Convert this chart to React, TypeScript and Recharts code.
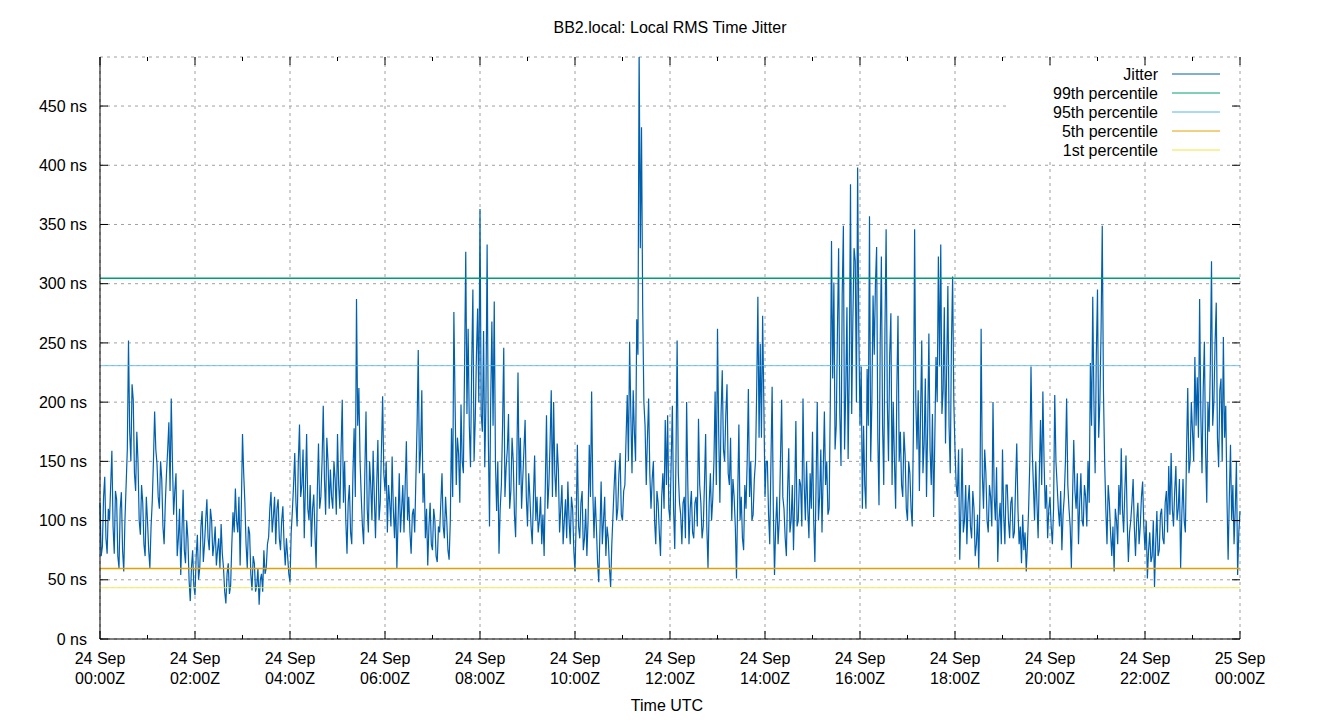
import React from 'react';
import { LineChart, Line, XAxis, YAxis, CartesianGrid, ReferenceLine } from 'recharts';

// samples every 3 minutes from 24 Sep 00:00Z (JITTER_ON) and the values read
// half way between them (JITTER_MID), which give the dense band of the trace
const STEP_MIN = 3;
const JITTER_ON = [
  115, 78, 137, 72, 100, 159, 72, 118, 60, 124,
  57, 130, 252, 150, 202, 125, 150, 88, 115, 70,
  100, 60, 116, 192, 148, 110, 135, 80, 140, 183,
  203, 105, 140, 85, 54, 126, 64, 85, 32, 75,
  37, 88, 60, 108, 80, 118, 75, 100,
  80, 62, 85, 97, 60, 30, 64, 45, 107, 127,
  90, 62, 173, 115, 60, 89, 41, 64, 45, 29,
  55, 75, 60, 86, 124, 103, 80, 118, 75, 112,
  62, 70, 48, 108, 157, 95, 181, 130, 85, 173,
  100, 78, 122, 60, 165, 120, 197, 105,
  150, 143, 110, 135, 173, 110, 202, 150, 72, 130,
  80, 178, 287, 212, 120, 80, 192, 90, 130, 159,
  85, 168, 115, 205, 125, 90, 115, 154, 85, 60,
  140, 110, 90, 167, 120, 72, 110, 135, 244, 160,
  115, 85, 62, 115, 75, 100, 65,
  90, 140, 85, 100, 67, 178, 276, 130, 156, 198,
  140, 327, 262, 145, 295, 185, 279, 363, 175, 145,
  333, 95, 268, 285, 108, 72, 130, 246, 145, 190,
  125, 150, 86, 225, 170, 135, 185, 95, 120, 80,
  155, 120, 100, 80, 70, 189, 130, 210,
  200, 120, 143, 110, 80, 118, 133, 80, 110, 57,
  164, 85, 125, 85, 70, 164, 209, 85, 95, 48,
  133, 100, 70, 85, 44, 105, 151, 110, 157, 100,
  130, 206, 251, 140, 175, 270, 500, 432, 200, 130,
  203, 110, 150, 80, 115, 70, 140,
  185, 189, 100, 197, 76, 252, 115, 80, 120, 200,
  80, 125, 85, 120, 186, 115, 95, 173, 60, 140,
  118, 209, 262, 115, 227, 150, 215, 130, 100, 120,
  51, 181, 120, 75, 110, 211, 150, 105, 150, 289,
  249, 273, 120, 150, 80, 213, 54, 120,
  100, 202, 110, 70, 161, 100, 75, 184, 100, 130,
  203, 100, 110, 140, 175, 65, 200, 120, 90, 192,
  150, 110, 336, 301, 180, 330, 146, 349, 210, 152,
  384, 270, 319, 398, 180, 110, 130, 228, 357, 200,
  240, 331, 113, 323, 130, 346, 150, 275,
  200, 110, 273, 175, 120, 155, 100, 140, 95, 346,
  160, 125, 252, 165, 120, 258, 130, 103, 238, 323,
  333, 210, 165, 298, 140, 306, 160, 120, 67, 161,
  100, 80, 130, 85, 110, 80, 59, 262, 110, 140,
  90, 120, 200, 100, 65, 115, 160, 80,
  130, 85, 120, 90, 165, 80, 64, 75, 57, 110,
  230, 130, 150, 85, 185, 209, 110, 85, 120, 80,
  206, 130, 95, 75, 120, 203, 110, 60, 168, 110,
  80, 140, 95, 120, 150, 233, 289, 140, 295, 200,
  349, 150, 80, 115, 70, 57, 100, 130,
  161, 90, 155, 65, 100, 135, 70, 115, 95, 133,
  75, 51, 90, 70, 44, 108, 75, 110, 80, 125,
  146, 157, 95, 146, 110, 60, 135, 90, 212, 150,
  175, 238, 221, 287, 140, 251, 115, 175, 319, 200,
  284, 145, 220, 255, 197, 67, 164, 130, 110, 54,
  108,
];

const JITTER_MID = [
  70, 120, 85, 110, 130, 95, 125, 70, 110, 75,
  100, 160, 175, 215, 140, 175, 100, 130, 80, 120,
  75, 95, 150, 160, 120, 150, 95, 115, 160, 125,
  150, 125, 70, 110, 90, 75, 100, 50, 60, 45,
  70, 50, 95, 65, 100, 85, 110, 70,
  95, 75, 60, 72, 40, 55, 38, 80, 90, 100,
  120, 110, 140, 80, 95, 55, 70, 40, 60, 50,
  40, 55, 80, 110, 90, 120, 110, 85, 100, 80,
  85, 55, 90, 130, 115, 150, 120, 160, 130, 110,
  130, 110, 90, 125, 110, 150, 135, 170,
  110, 120, 150, 105, 130, 160, 115, 100, 115, 90,
  140, 120, 180, 150, 95, 140, 110, 150, 100, 120,
  130, 100, 160, 140, 150, 130, 95, 110, 120, 100,
  90, 130, 130, 100, 90, 105, 90, 180, 140, 210,
  140, 110, 95, 80, 110, 70, 95,
  115, 95, 120, 75, 100, 120, 200, 170, 115, 150,
  230, 190, 180, 230, 150, 240, 200, 190, 260, 200,
  170, 200, 180, 150, 150, 110, 180, 120, 160, 110,
  170, 105, 150, 130, 110, 160, 120, 140, 95, 120,
  100, 90, 120, 105, 130, 110, 165, 120,
  140, 165, 90, 130, 100, 85, 100, 120, 75, 100,
  95, 115, 75, 110, 100, 120, 125, 120, 65, 90,
  80, 120, 95, 60, 80, 130, 100, 140, 105, 125,
  170, 150, 190, 210, 150, 240, 330, 280, 180, 170,
  140, 135, 100, 125, 90, 120, 110,
  130, 110, 150, 110, 150, 140, 105, 115, 85, 130,
  110, 90, 115, 95, 130, 85, 130, 95, 115, 100,
  150, 130, 175, 190, 160, 190, 140, 170, 135, 95,
  120, 100, 85, 130, 150, 120, 100, 135, 210, 170,
  170, 200, 150, 105, 150, 110, 95, 80,
  150, 120, 85, 125, 90, 130, 120, 95, 135, 95,
  130, 150, 85, 110, 100, 130, 100, 160, 140, 130,
  105, 200, 220, 160, 260, 190, 290, 160, 280, 230,
  190, 330, 200, 260, 230, 180, 110, 180, 150, 290,
  300, 170, 250, 180, 260, 200, 240, 130,
  150, 210, 150, 130, 175, 110, 150, 110, 180, 200,
  210, 190, 140, 220, 180, 160, 190, 170, 200, 230,
  190, 280, 230, 180, 250, 200, 130, 160, 110, 90,
  130, 115, 95, 125, 70, 105, 120, 140, 160, 100,
  130, 95, 120, 145, 100, 80, 105, 130,
  100, 115, 85, 130, 110, 95, 105, 90, 80, 150,
  160, 100, 115, 140, 130, 150, 130, 110, 95, 110,
  150, 110, 125, 105, 150, 130, 95, 120, 125, 140,
  115, 100, 130, 95, 115, 180, 200, 240, 170, 260,
  210, 110, 130, 90, 95, 110, 80, 105,
  110, 125, 100, 90, 115, 95, 100, 80, 120, 95,
  100, 75, 65, 100, 80, 70, 105, 85, 115, 90,
  105, 110, 125, 100, 135, 105, 100, 160, 140, 200,
  150, 180, 170, 190, 210, 160, 200, 230, 180, 250,
  170, 210, 150, 170, 120, 120, 100, 80, 150, 90,
];

const PCT_KEYS = ['p99', 'p95', 'p5', 'p1'];
const PCT_NAMES = ['99th percentile', '95th percentile', '5th percentile', '1st percentile'];
const PCT_VALUES = [304.5, 230.8, 59.5, 43.3];

const X_TICKS = [0, 120, 240, 360, 480, 600, 720, 840, 960, 1080, 1200, 1320, 1440];
const X_MINOR = [60, 180, 300, 420, 540, 660, 780, 900, 1020, 1140, 1260, 1380];
const X_DAY = ['24 Sep', '24 Sep', '24 Sep', '24 Sep', '24 Sep', '24 Sep', '24 Sep', '24 Sep', '24 Sep', '24 Sep', '24 Sep', '24 Sep', '25 Sep'];
const X_TIME = ['00:00Z', '02:00Z', '04:00Z', '06:00Z', '08:00Z', '10:00Z', '12:00Z', '14:00Z', '16:00Z', '18:00Z', '20:00Z', '22:00Z', '00:00Z'];
const Y_TICKS = [0, 50, 100, 150, 200, 250, 300, 350, 400, 450];
const X_MAX = 1440;
const Y_MAX = 491.4;

// tick mark lengths in data units (about 8 px major, 4 px minor)
const TICK_NS = 6.8;
const MINOR_NS = 3.4;
const TICK_MIN = 10.1;

const JITTER_COLOR = '#0060ad';
const PCT_COLORS = ['#009e73', '#56b4e9', '#e69f00', '#f0e442'];
const PCT_WIDTHS = [1.5, 1, 1.5, 1];
const FONT = '"Liberation Sans", Arial, sans-serif';

const rows: Record<string, number>[] = [];
JITTER_ON.forEach((v, i) => {
  rows.push({ t: i * STEP_MIN, jitter: v });
  if (i < JITTER_MID.length) rows.push({ t: i * STEP_MIN + STEP_MIN / 2, jitter: JITTER_MID[i] });
});
rows.forEach((r) => {
  PCT_KEYS.forEach((k, j) => { r[k] = PCT_VALUES[j]; });
});

function TimeTick({ x, y, payload }: { x?: number; y?: number; payload?: { value: number } }) {
  const i = X_TICKS.indexOf(payload ? payload.value : -1);
  if (i < 0) return <g />;
  return (
    <g>
      <text x={x} y={(y || 0) + 25} textAnchor="middle" fontSize={16} fontFamily={FONT} fill="#000">{X_DAY[i]}</text>
      <text x={x} y={(y || 0) + 45} textAnchor="middle" fontSize={16} fontFamily={FONT} fill="#000">{X_TIME[i]}</text>
    </g>
  );
}

const legendNames = ['Jitter', ...PCT_NAMES];
const legendColors = [JITTER_COLOR, ...PCT_COLORS];

function tickSeg(key: string, a: { x: number; y: number }, b: { x: number; y: number }) {
  return (
    <ReferenceLine
      key={key}
      xAxisId="main"
      yAxisId="l"
      segment={[a, b]}
      stroke="#000"
      strokeWidth={1}
      ifOverflow="visible"
    />
  );
}

export default function App() {
  const xProps = { type: 'number' as const, dataKey: 't', domain: [0, X_MAX], interval: 0 as const };
  const ticks = [
    ...X_TICKS.map((t) => tickSeg(`bM${t}`, { x: t, y: 0 }, { x: t, y: TICK_NS })),
    ...X_TICKS.map((t) => tickSeg(`tM${t}`, { x: t, y: Y_MAX }, { x: t, y: Y_MAX - TICK_NS })),
    ...X_MINOR.map((t) => tickSeg(`bm${t}`, { x: t, y: 0 }, { x: t, y: MINOR_NS })),
    ...X_MINOR.map((t) => tickSeg(`tm${t}`, { x: t, y: Y_MAX }, { x: t, y: Y_MAX - MINOR_NS })),
    ...Y_TICKS.map((v) => tickSeg(`l${v}`, { x: 0, y: v }, { x: TICK_MIN, y: v })),
    ...Y_TICKS.map((v) => tickSeg(`r${v}`, { x: X_MAX, y: v }, { x: X_MAX - TICK_MIN, y: v })),
  ];
  return (
    <div style={{ position: 'absolute', left: 0, top: 0, width: 1340, height: 720, background: '#fff' }}>
      <LineChart width={1340} height={720} data={rows} margin={{ top: 57, right: 100, bottom: 0, left: 0 }}>
        <CartesianGrid xAxisId="main" yAxisId="l" stroke="#a0a0a0" strokeDasharray="3 4" />
        <XAxis
          {...xProps}
          xAxisId="main"
          ticks={X_TICKS}
          height={81}
          tickSize={0}
          tickMargin={0}
          tickLine={false}
          axisLine={{ stroke: '#000' }}
          tick={<TimeTick />}
        />
        <XAxis {...xProps} xAxisId="top" orientation="top" mirror height={0} ticks={X_TICKS} tick={false} tickLine={false} axisLine={{ stroke: '#000' }} />
        <YAxis
          yAxisId="l"
          type="number"
          domain={[0, Y_MAX]}
          allowDataOverflow
          ticks={Y_TICKS}
          interval={0}
          width={100}
          tickSize={0}
          tickMargin={13}
          tickLine={false}
          axisLine={{ stroke: '#000' }}
          tickFormatter={(v: number) => `${v} ns`}
          tick={{ fontSize: 16, fontFamily: FONT, fill: '#000' }}
        />
        <YAxis yAxisId="right" orientation="right" type="number" domain={[0, Y_MAX]} mirror width={0} ticks={Y_TICKS} tick={false} tickLine={false} axisLine={{ stroke: '#000' }} />
        <Line
          xAxisId="main"
          yAxisId="l"
          dataKey="jitter"
          name="Jitter"
          stroke={JITTER_COLOR}
          strokeWidth={1.2}
          dot={false}
          activeDot={false}
          type="linear"
          isAnimationActive={false}
        />
        {PCT_KEYS.map((k, j) => (
          <Line
            key={k}
            xAxisId="main"
            yAxisId="l"
            dataKey={k}
            name={PCT_NAMES[j]}
            stroke={PCT_COLORS[j]}
            strokeWidth={PCT_WIDTHS[j]}
            dot={false}
            activeDot={false}
            type="linear"
            isAnimationActive={false}
          />
        ))}
        {ticks}
      </LineChart>
      <svg width={1340} height={720} style={{ position: 'absolute', left: 0, top: 0, pointerEvents: 'none' }}>
        <text x={670} y={33} textAnchor="middle" fontSize={16} fontFamily={FONT} fill="#000">BB2.local: Local RMS Time Jitter</text>
        <text x={667} y={711} textAnchor="middle" fontSize={16} fontFamily={FONT} fill="#000">Time UTC</text>
        <rect x={1010} y={66} width={222} height={92} fill="#fff" />
        {legendNames.map((n, i) => (
          <g key={n}>
            <text x={1158} y={74 + i * 19 + 5.5} textAnchor="end" fontSize={16} fontFamily={FONT} fill="#000">{n}</text>
            <line x1={1172} x2={1220} y1={74 + i * 19} y2={74 + i * 19} stroke={legendColors[i]} strokeWidth={1} />
          </g>
        ))}
      </svg>
    </div>
  );
}
